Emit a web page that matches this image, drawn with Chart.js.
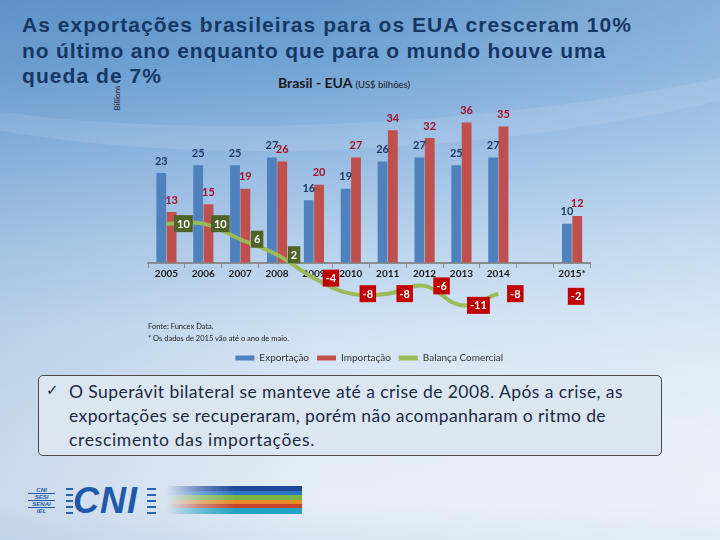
<!DOCTYPE html>
<html><head><meta charset="utf-8">
<script src="https://cdn.jsdelivr.net/npm/chart.js@4.4.1/dist/chart.umd.min.js"></script>
<style>
html,body{margin:0;padding:0;}
body{width:720px;height:540px;position:relative;overflow:hidden;font-family:Lato,"Open Sans",sans-serif;
 background:linear-gradient(180deg,#6599cd 0px,#74a5d6 70px,#94bae2 150px,#b6d1ec 240px,#d0e2f3 330px,#e2ecf7 430px,#e6eef8 500px,#dbe7f4 540px);}
.abs{position:absolute;white-space:nowrap;}
#bg2{position:absolute;left:0;top:0;width:720px;height:540px;
 background:linear-gradient(90deg,rgba(60,110,170,0.16) 0%,rgba(255,255,255,0) 45%,rgba(255,255,255,0.22) 100%);}
#wave{position:absolute;left:-200px;top:-180px;width:1200px;height:300px;border-radius:50%;
 border-bottom:26px solid rgba(255,255,255,0.10);transform:rotate(-4deg);}
.tl{position:absolute;left:22px;font:bold 21px "Liberation Sans",Arial,sans-serif;color:#163764;white-space:nowrap;}
#box{position:absolute;left:38px;top:375px;width:624px;height:81px;background:#dbe6f2;border:1px solid #4a4a4a;border-radius:5px;box-sizing:border-box;}
.bl{position:absolute;left:69px;font:17.5px Lato,sans-serif;color:#1c2a44;white-space:nowrap;}
#chk{position:absolute;left:46px;top:381px;font:15px "DejaVu Sans",sans-serif;color:#1c2a44;}
#canvasWrap{position:absolute;left:0;top:95px;width:720px;height:278px;}
.fn{position:absolute;left:148px;font:7.5px Lato,sans-serif;color:#222;white-space:nowrap;}
#stripes{position:absolute;left:166px;top:486px;width:136px;height:28px;
 background:linear-gradient(180deg,#1f4a98 0 5px,#2f74c2 5px 9px,#7bb345 9px 14px,#e88a2c 14px 18px,#c8452d 18px 22px,#23a3c4 22px 28px);
 -webkit-mask-image:linear-gradient(90deg,rgba(0,0,0,0) 0%,rgba(0,0,0,0.6) 25%,#000 50%);mask-image:linear-gradient(90deg,rgba(0,0,0,0) 0%,rgba(0,0,0,0.6) 25%,#000 50%);}
.dash{position:absolute;height:1.5px;background:#2a64b0;}
.mini{position:absolute;left:28px;width:27px;font:italic bold 6px "Liberation Sans",Arial,sans-serif;color:#1f5aa8;text-align:center;line-height:6px;}
</style></head>
<body>
<div id="bg2"></div>
<div id="wave"></div>

<div class="tl" id="t1" style="top:13px">As exportações brasileiras para os EUA cresceram 10%</div>
<div class="tl" id="t2" style="top:38.5px">no último ano enquanto que para o mundo houve uma</div>
<div class="tl" id="t3" style="top:64px">queda de 7%</div>

<div class="abs" style="left:278px;top:74px;font:bold 14px Lato,sans-serif;color:#1a1a1a;">Brasil - EUA <span style="font-size:9.5px;font-weight:normal;">(US$ bilhões)</span></div>
<div class="abs" style="left:117px;top:98px;font:8px Lato,sans-serif;color:#222;transform:translate(-50%,-50%) rotate(-90deg);">Billions</div>

<div id="canvasWrap"><canvas id="c" width="720" height="278"></canvas></div>

<div class="fn" style="top:322px">Fonte: Funcex Data.</div>
<div class="fn" style="top:334px">* Os dados de 2015 vão até o ano de maio.</div>

<div id="box"></div>
<div id="chk">✓</div>
<div class="bl" id="b1" style="top:381px">O Superávit bilateral se manteve até a crise de 2008. Após a crise, as</div>
<div class="bl" id="b2" style="top:405px">exportações se recuperaram, porém não acompanharam o ritmo de</div>
<div class="bl" id="b3" style="top:429px">crescimento das importações.</div>

<!-- logo -->
<div class="mini" style="top:487px;">
 <div style="border-bottom:1px solid #1f5aa8;height:6px">CNI</div>
 <div style="border-bottom:1px solid #1f5aa8;height:6px">SESI</div>
 <div style="border-bottom:1px solid #1f5aa8;height:6px">SENAI</div>
 <div style="height:6px">IEL</div>
</div>
<div class="dash" style="left:66px;top:488px;width:7px"></div>
<div class="dash" style="left:66px;top:494px;width:7px"></div>
<div class="dash" style="left:66px;top:500px;width:7px"></div>
<div class="dash" style="left:66px;top:506px;width:7px"></div>
<div class="dash" style="left:66px;top:512px;width:7px"></div>
<div class="abs" style="left:73px;top:480px;font:italic bold 36px 'Liberation Sans',Arial,sans-serif;color:#1f5aa8;letter-spacing:1px;">CNI</div>
<div class="dash" style="left:147px;top:488px;width:9px"></div>
<div class="dash" style="left:147px;top:494px;width:9px"></div>
<div class="dash" style="left:147px;top:500px;width:9px"></div>
<div class="dash" style="left:147px;top:506px;width:9px"></div>
<div class="dash" style="left:147px;top:512px;width:9px"></div>
<div id="stripes"></div>

<script>
// ---- data ----
const categories = ['2005','2006','2007','2008','2009','2010','2011','2012','2013','2014','','2015*'];
const exportacao = [23,25,25,27,16,19,26,27,25,27,null,10];
const importacao = [13,15,19,26,20,27,34,32,36,35,null,12];
const balanca   = [10,10,6,2,-4,-8,-8,-6,-11,-8,null,-2];
const seriesNames = ['Exportação','Importação','Balança Comercial'];

// fit text lines to measured widths
function fit(id, target){
  const el=document.getElementById(id);
  const n=el.textContent.length;
  el.style.letterSpacing='0px';
  const w=el.getBoundingClientRect().width;
  el.style.letterSpacing=((target-w)/n)+'px';
}
fit('t1',610); fit('t2',584); fit('t3',140);
fit('b1',554); fit('b2',537); fit('b3',246);

const labelPlugin={
  id:'labelPlugin',
  afterDatasetsDraw(chart){
    const ctx=chart.ctx;
    const barColors=['#1f3864','#a8102a'];
    chart.data.datasets.forEach((ds,i)=>{
      const meta=chart.getDatasetMeta(i);
      meta.data.forEach((el,j)=>{
        const v=ds.data[j];
        if(v===null||v===undefined) return;
        const txt=String(v);
        ctx.save();
        ctx.font='bold 11px Lato';
        ctx.textAlign='center';ctx.textBaseline='middle';
        if(meta.type==='bar'){
          ctx.fillStyle=barColors[i];
          ctx.fillText(txt,el.x,el.y-12);
        }else{
          const isolated=(j>0&&ds.data[j-1]===null);
          const x=el.x+(isolated?4:17), y=el.y+(isolated?26:0);
          const w=ctx.measureText(txt).width+6, h=17;
          ctx.fillStyle=v>=0?'#4f6228':'#c00000';
          ctx.fillRect(x-w/2,y-h/2,w,h);
          ctx.fillStyle='#ffffff';
          ctx.fillText(txt,x,y+0.5);
        }
        ctx.restore();
      });
    });
  }
};

new Chart(document.getElementById('c'),{
  data:{
    labels:categories,
    datasets:[
      {type:'bar',label:seriesNames[0],data:exportacao,backgroundColor:'#4f81bd',categoryPercentage:0.56,barPercentage:0.95},
      {type:'bar',label:seriesNames[1],data:importacao,backgroundColor:'#c0504d',categoryPercentage:0.56,barPercentage:0.95},
      {type:'line',label:seriesNames[2],data:balanca,borderColor:'#9bbb59',backgroundColor:'#9bbb59',borderWidth:4,tension:0.4,pointRadius:0,spanGaps:false,fill:false,order:-1}
    ]
  },
  options:{
    responsive:false,animation:false,
    layout:{padding:{left:148,right:129.5,top:12,bottom:0}},
    scales:{
      x:{position:{y:0},offset:true,
         grid:{display:true,drawOnChartArea:false,tickLength:4,color:'#8c8c8c',lineWidth:1,offset:true},
         border:{display:true,color:'#8c8c8c',width:2},
         ticks:{font:{family:'Lato',weight:'bold',size:10},color:'#1a1a1a',padding:1,maxRotation:0,autoSkip:false}},
      y:{display:false,min:-21.2,max:40}
    },
    plugins:{
      legend:{position:'bottom',labels:{boxWidth:19,boxHeight:5,padding:8,font:{family:'Lato',size:10},color:'#333',
        generateLabels(chart){
          const items=Chart.defaults.plugins.legend.labels.generateLabels(chart);
          items.forEach(it=>{it.lineWidth=0;});
          return items.sort((a,b)=>a.datasetIndex-b.datasetIndex);
        }}},
      tooltip:{enabled:false}
    }
  },
  plugins:[labelPlugin]
});
</script>
</body></html>
